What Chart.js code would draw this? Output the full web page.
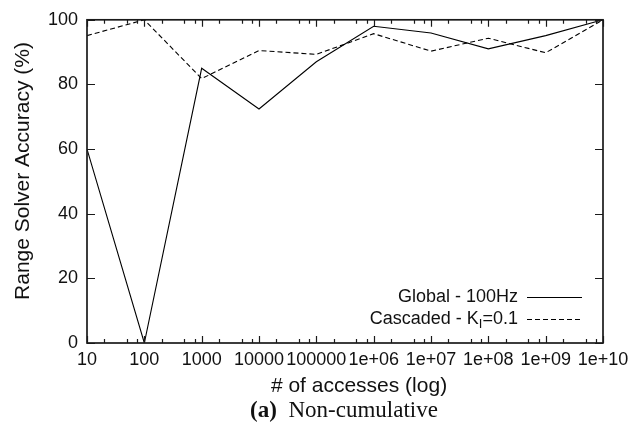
<!DOCTYPE html>
<html><head><meta charset="utf-8">
<script src="https://cdn.jsdelivr.net/npm/chart.js@4.4.0/dist/chart.umd.min.js"></script>
<style>
html,body{margin:0;padding:0;background:#fff;}
#wrap{position:relative;width:644px;height:434px;overflow:hidden;}
canvas{position:absolute;left:0;top:0;}
#cap{position:absolute;left:344px;top:397px;transform:translateX(-50%);white-space:nowrap;font-family:"Liberation Serif","Times New Roman",serif;font-size:23px;line-height:26px;color:#111;}
</style></head>
<body><div id="wrap"><canvas id="c" width="644" height="434"></canvas><div id="cap"><b>(a)</b>&nbsp; Non-cumulative</div></div>
<script>
const accesses = [10, 100, 1e3, 1e4, 1e5, 1e6, 1e7, 1e8, 1e9, 1e10];
const xTickLabels = ['10', '100', '1000', '10000', '100000', '1e+06', '1e+07', '1e+08', '1e+09', '1e+10'];
const globalAcc = [60, 0, 85, 72.4, 87, 98, 95.9, 91, 95.1, 100];
const cascadedAcc = [95.1, 100, 81.8, 90.5, 89.3, 95.7, 90.3, 94.3, 89.8, 100];
const seriesNames = ['Global - 100Hz', 'Cascaded - K_I=0.1'];
const yTicks = [0, 20, 40, 60, 80, 100];
const minorFactors = [2, 5, 7.5];
const xTitle = '# of accesses (log)';
const yTitle = 'Range Solver Accuracy (%)';

const SANS = '"Liberation Sans", Arial, Helvetica, sans-serif';
const INK = '#111';

function drawRich(ctx, text, xRight, yMid, size) {
  const parts = [];
  let i = 0, buf = '';
  while (i < text.length) {
    if (text[i] === '_' && i + 1 < text.length) {
      if (buf) parts.push({t: buf, sub: false});
      buf = '';
      parts.push({t: text[i + 1], sub: true});
      i += 2;
    } else { buf += text[i]; i++; }
  }
  if (buf) parts.push({t: buf, sub: false});
  const subSize = Math.round(size * 0.7);
  let total = 0;
  parts.forEach(p => {
    ctx.font = (p.sub ? subSize : size) + 'px ' + SANS;
    p.w = ctx.measureText(p.t).width;
    total += p.w;
  });
  let x = xRight - total;
  ctx.textAlign = 'left';
  ctx.textBaseline = 'middle';
  parts.forEach(p => {
    ctx.font = (p.sub ? subSize : size) + 'px ' + SANS;
    ctx.fillText(p.t, x, p.sub ? yMid + size * 0.3 : yMid);
    x += p.w;
  });
}

const framePlugin = {
  id: 'frame',
  afterDraw(chart) {
    const ctx = chart.ctx;
    const a = chart.chartArea;
    const xs = chart.scales.x, ys = chart.scales.y;
    ctx.save();
    ctx.strokeStyle = '#1a1a1a';
    ctx.lineWidth = 1.2;
    ctx.beginPath();
    yTicks.forEach(v => {
      const y = Math.round(ys.getPixelForValue(v)) + 0.5;
      ctx.moveTo(a.left, y); ctx.lineTo(a.left + 8, y);
      ctx.moveTo(a.right, y); ctx.lineTo(a.right - 8, y);
    });
    xs.ticks.forEach(t => {
      const x = Math.round(xs.getPixelForValue(t.value)) + 0.5;
      const len = accesses.indexOf(t.value) >= 0 ? 7 : 4;
      ctx.moveTo(x, a.bottom); ctx.lineTo(x, a.bottom - len);
      ctx.moveTo(x, a.top); ctx.lineTo(x, a.top + len);
    });
    ctx.stroke();
    ctx.lineWidth = 1.7;
    ctx.strokeRect(a.left, a.top, a.right - a.left, a.bottom - a.top);

    ctx.fillStyle = INK;
    ctx.font = '21px ' + SANS;
    ctx.textAlign = 'center';
    ctx.textBaseline = 'middle';
    ctx.fillText(xTitle, 359, 386);
    ctx.save();
    ctx.translate(23, 171);
    ctx.rotate(-Math.PI / 2);
    ctx.fillText(yTitle, 0, 0);
    ctx.restore();

    const rows = [{y: 297, dash: []}, {y: 319, dash: [5, 3]}];
    rows.forEach((r, i) => {
      ctx.fillStyle = INK;
      drawRich(ctx, seriesNames[i], 518, r.y, 18);
      ctx.setLineDash(r.dash);
      ctx.lineWidth = 1;
      ctx.strokeStyle = '#000';
      ctx.beginPath();
      ctx.moveTo(527, r.y + 0.5); ctx.lineTo(582, r.y + 0.5);
      ctx.stroke();
    });
    ctx.setLineDash([]);
    ctx.restore();
  }
};

new Chart(document.getElementById('c'), {
  type: 'line',
  data: {
    datasets: [
      {label: seriesNames[0], data: accesses.map((x, i) => ({x, y: globalAcc[i]})),
       borderColor: '#000', borderWidth: 1.1, pointRadius: 0, tension: 0, fill: false},
      {label: seriesNames[1], data: accesses.map((x, i) => ({x, y: cascadedAcc[i]})),
       borderColor: '#000', borderWidth: 1.1, borderDash: [5, 3], pointRadius: 0, tension: 0, fill: false}
    ]
  },
  options: {
    responsive: false,
    animation: false,
    devicePixelRatio: 1,
    layout: {padding: {left: 0, right: 41, top: 17, bottom: 32}},
    plugins: {legend: {display: false}, tooltip: {enabled: false}},
    scales: {
      x: {
        type: 'logarithmic', min: 10, max: 1e10,
        grid: {display: false, drawTicks: false}, border: {display: false},
        afterBuildTicks(s) {
          const t = [];
          accesses.forEach((v, i) => {
            t.push({value: v});
            if (i < accesses.length - 1) minorFactors.forEach(f => t.push({value: v * f}));
          });
          s.ticks = t;
        },
        afterFit(s) { s.height = 59; },
        ticks: {
          autoSkip: false, maxRotation: 0, minRotation: 0, padding: 6, color: INK,
          font: {family: SANS, size: 18},
          callback(v) { const i = accesses.indexOf(v); return i >= 0 ? xTickLabels[i] : ''; }
        }
      },
      y: {
        type: 'linear', min: 0, max: 100,
        grid: {display: false, drawTicks: false}, border: {display: false},
        afterBuildTicks(s) { s.ticks = yTicks.map(v => ({value: v})); },
        afterFit(s) { s.width = 87; },
        ticks: {padding: 9, color: INK, font: {family: SANS, size: 18}}
      }
    }
  },
  plugins: [framePlugin]
});
</script>
</body></html>
